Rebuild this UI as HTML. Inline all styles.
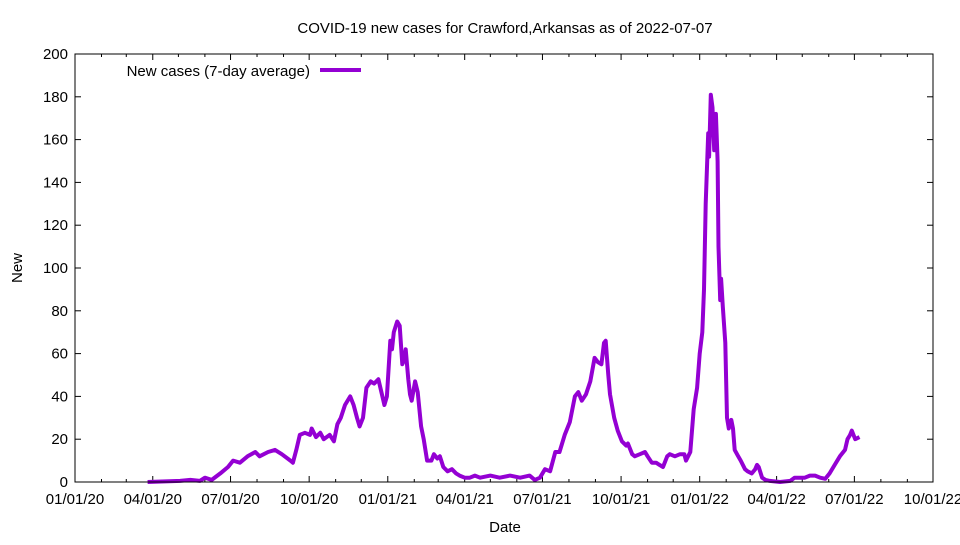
<!DOCTYPE html>
<html><head><meta charset="utf-8"><style>
body{margin:0;background:#fff}
svg text{font-family:"Liberation Sans",sans-serif;fill:#000}
</style></head><body>
<svg id="chart" width="960" height="540" viewBox="0 0 960 540" xmlns="http://www.w3.org/2000/svg">
<rect width="960" height="540" fill="#fff"/>
<text x="505" y="33" font-size="15" text-anchor="middle">COVID-19 new cases for Crawford,Arkansas as of 2022-07-07</text>
<text x="505" y="532" font-size="15" text-anchor="middle">Date</text>
<text x="22" y="268" font-size="15" text-anchor="middle" transform="rotate(-90 22 268)">New</text>
<g id="axes"></g>
<g id="series"></g>
<g>
<text x="310" y="76" font-size="15" text-anchor="end">New cases (7-day average)</text>
<line x1="320" y1="70" x2="361" y2="70" stroke="#9400d3" stroke-width="4"/>
</g>
<rect x="75" y="54" width="858" height="428" fill="none" stroke="#000" stroke-width="1"/>
</svg>
<script>
const yTicks=[0,20,40,60,80,100,120,140,160,180,200];
const xTickLabels=["01/01/20","04/01/20","07/01/20","10/01/20","01/01/21","04/01/21","07/01/21","10/01/21","01/01/22","04/01/22","07/01/22","10/01/22"];
// days since 2020-01-01
const days=[85,123,135,146,152,160,170,179,185,193,202,211,216,226,234,242,252,255,259,263,269,275,277,282,287,291,298,303,307,311,316,322,326,330,333,337,341,346,350,355,358,362,365,369,371,373,377,380,383,385,387,390,392,394,398,401,405,408,412,417,420,424,427,431,436,441,446,450,456,462,468,474,486,497,509,521,532,538,544,550,556,562,567,573,579,585,589,593,598,603,608,612,616,619,621,624,626,631,635,640,645,647,652,655,661,667,670,675,680,684,688,693,696,702,708,713,715,720,724,728,731,734,736,738,741,742,744,746,748,750,752,753,755,756,758,761,763,765,768,770,772,776,779,784,787,792,796,798,800,804,808,813,825,837,842,848,854,860,866,872,878,883,889,895,901,904,907,909,913,918];
const cases=[0,0.5,1,0.5,2,1,4,7,10,9,12,14,12,14,15,13,10,9,15,22,23,22,25,21,23,20,22,19,27,30,36,40,36,30,26,30,44,47,46,48,43,36,40,66,62,70,75,73,55,57,62,48,41,38,47,42,26,20,10,10,13,11,12,7,5,6,4,3,2,2,3,2,3,2,3,2,3,1,2,6,5,14,14,22,28,40,42,38,41,47,58,56,55,65,66,50,41,30,24,19,17,18,13,12,13,14,12,9,9,8,7,12,13,12,13,13,10,14,34,44,60,70,90,130,163,152,181,175,155,172,150,110,85,95,82,65,30,25,29,25,15,12,10,6,5,4,6,8,7,2,1,0.5,0,0.5,2,2,2,3,3,2,1.5,4,8,12,15,20,22,24,20,21];
const X0=75,X1=933,Y0=482,Y1=54,D0=0,D1=1004,VMAX=200;
function xs(d){return X0+(d-D0)/(D1-D0)*(X1-X0);}
function ys(v){return Y0-v/VMAX*(Y0-Y1);}
const NS="http://www.w3.org/2000/svg";
const axes=document.getElementById('axes');
function mk(tag,attrs,parent){const e=document.createElementNS(NS,tag);for(const k in attrs)e.setAttribute(k,attrs[k]);parent.appendChild(e);return e;}
yTicks.forEach(v=>{
  const y=ys(v);
  const t=mk('line',{x1:X0,y1:y,x2:X0+6,y2:y,stroke:'#000'},axes);
  
  
  const t2=mk('line',{x1:X1,y1:y,x2:X1-6,y2:y,stroke:'#000'},axes);
  
  
  const l=mk('text',{x:X0-7,y:y+5,'font-size':15,'text-anchor':'end'},axes);
  l.textContent=v;
  
  
});
const base=Date.UTC(2020,0,1);
for(let m=0;m<=33;m++){
  const d=(Date.UTC(2020,m,1)-base)/86400000;
  const major=m%3===0;
  const len=major?6:3;
  const x=xs(d);
  const t=mk('line',{x1:x,y1:Y0,x2:x,y2:Y0-len,stroke:'#000'},axes);
  
  
  const t2=mk('line',{x1:x,y1:Y1,x2:x,y2:Y1+len,stroke:'#000'},axes);
  
  
  if(major){
    const l=mk('text',{x:x,y:504,'font-size':15,'text-anchor':'middle'},axes);
    l.textContent=xTickLabels[m/3];
    
    
  }
}
const pts=days.map((d,i)=>xs(d).toFixed(1)+','+ys(cases[i]).toFixed(1)).join(' ');
const line=mk('polyline',{points:pts,fill:'none',stroke:'#9400d3','stroke-width':4,'stroke-linejoin':'round'},document.getElementById('series'));


</script>
</body></html>
